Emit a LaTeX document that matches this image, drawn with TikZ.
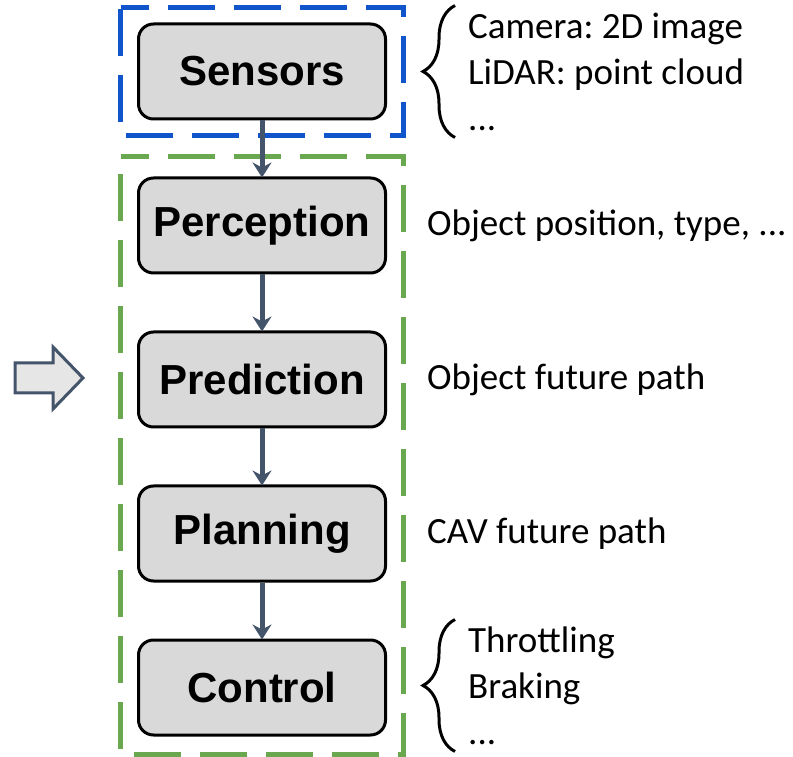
\documentclass[tikz,border=0pt]{standalone}
\usepackage{fontspec}
\setmainfont{Carlito}
\newfontfamily\boxfont{Liberation Sans}
\usepackage{tikz}
\usetikzlibrary{arrows.meta,positioning,fit,calc,decorations.pathreplacing}
\definecolor{ArrowSlate}{HTML}{44546A}
\definecolor{BoxGray}{HTML}{D9D9D9}
\definecolor{HollowGray}{HTML}{E7E6E6}
\definecolor{FrameBlue}{HTML}{1155CC}
\definecolor{FrameGreen}{HTML}{6AA84F}
\frenchspacing
\tikzset{
  % Stage box
  SB/.style={rectangle,rounded corners=15pt,
             minimum width=247pt,minimum height=95pt,
             draw=black,line width=3pt,fill=BoxGray,
             font=\boxfont\bfseries\fontsize{42}{50}\selectfont},
  % Dashed group frames
  GF/.style={line width=5pt,line join=miter,
             dash pattern=on 47pt off 19pt,dash phase=19pt},
  gB/.style={GF,draw=FrameBlue},
  gG/.style={GF,draw=FrameGreen},
  % Side notes
  IN/.style={inner sep=0pt,align=left,
             font=\fontsize{37}{46}\selectfont},
  % Curly brace
  BR/.style={decorate,decoration={brace,amplitude=32pt},line width=3pt},
  % Arrow
  arr/.style={-{Stealth[length=15pt,width=19pt,inset=5pt]},
              line width=5pt,draw=ArrowSlate,shorten >=-1pt}
}

\begin{document}
\begin{tikzpicture}[x=1pt,y=1pt]
  \useasboundingbox (0,0) rectangle (793,756);

  \node[SB] at (262,684.5)            (sens) {Sensors};
  \node[SB,below=56pt of sens]        (perc) {Perception};
  \node[SB,below=56pt of perc]        (pred) {Prediction};
  \node[SB,below=56pt of pred]        (plan) {Planning};
  \node[SB,below=56pt of plan]        (ctrl) {Control};

  % group frames
  \node[fit=(sens),inner xsep=16pt,inner ysep=15pt]                    (sensgrp) {};
  \node[fit=(perc)(ctrl),inner xsep=16pt,inner ysep=19pt,yshift=1pt]   (pipegrp) {};
  \draw[gB] (sensgrp.north west) -- (sensgrp.north east) -- (sensgrp.south east)
            -- (sensgrp.south west) -- cycle;
  \draw[gG] (pipegrp.north west) -- (pipegrp.north east) -- (pipegrp.south east)
            -- (pipegrp.south west) -- cycle;

  \draw[arr](sens)--(perc);
  \draw[arr](perc)--(pred);
  \draw[arr](pred)--(plan);
  \draw[arr](plan)--(ctrl);

  % notes on the right
  \node[IN,right=81pt of sens] (sensnote) {Camera: 2D image\\LiDAR: point cloud\\...};
  \node[IN,right=40pt of perc] (percnote) {Object position, type, ...};
  \node[IN,right=40pt of pred] (prednote) {Object future path};
  \node[IN,right=40pt of plan] (plannote) {CAV future path};
  \node[IN,right=81pt of ctrl,yshift=2pt] (ctrlnote) {Throttling\\Braking\\...};

  \draw[BR] ([shift={(-13pt,-66pt)}]sensnote.west) -- ([shift={(-13pt,66pt)}]sensnote.west);
  \draw[BR] ([shift={(-13pt,-66pt)}]ctrlnote.west) -- ([shift={(-13pt,66pt)}]ctrlnote.west);

  % hollow input arrow
  \draw[line width=3pt,draw=ArrowSlate,fill=HollowGray,line join=miter]
    (15,363) -- (53,363) -- (53,347) -- (83,378) -- (53,409) -- (53,393) -- (15,393) -- cycle;
\end{tikzpicture}
\end{document}
